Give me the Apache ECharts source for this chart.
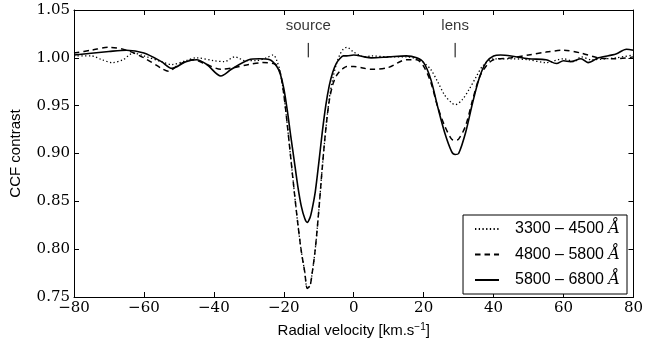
<!DOCTYPE html>
<html>
<head>
<meta charset="utf-8">
<script src="https://cdn.jsdelivr.net/npm/echarts@6/dist/echarts.min.js"></script>
<style>html,body{margin:0;padding:0;background:#fff}#c{width:646px;height:350px}</style>
</head>
<body>
<div id="c"></div>
<script>
// ---- data ----
var xTicks = [-80, -60, -40, -20, 0, 20, 40, 60, 80];
var yTicks = [0.75, 0.80, 0.85, 0.90, 0.95, 1.00, 1.05];
var seriesNames = ['3300 \u2013 4500 ', '4800 \u2013 5800 ', '5800 \u2013 6800 '];

var vDot = [-80,-75,-72,-69,-66,-63,-60,-55,-52,-48,-45,-40,-37,-34,-31,-28,-25,-23,-22,-21,-20,-19,-18,-17,-16,-15,-14,-13.3,-12.5,-12,-11,-10,-9,-8,-7,-6,-5,-4,-3,-2,0,3,5,10,15,18,20,22,24,26,28,29,31,33,35,37,40,45,50,55,60,63,65,68,72,75,80];
var cDot = [1.002,1.002,0.998,0.995,0.998,1.005,1.002,0.996,0.993,0.997,1.000,0.997,0.996,1.001,0.997,0.997,1.000,1.003,0.997,0.985,0.962,0.930,0.895,0.860,0.827,0.798,0.776,0.759,0.762,0.772,0.800,0.840,0.885,0.925,0.957,0.978,0.993,1.003,1.009,1.011,1.006,1.001,1.002,1.001,1.001,0.999,0.995,0.988,0.975,0.961,0.953,0.951,0.956,0.967,0.980,0.992,0.999,0.999,0.998,0.995,0.999,0.996,1.001,0.998,0.999,1.000,1.003];

var vDash = [-80,-75,-70,-65,-60,-55,-53,-50,-46,-42,-38,-34,-30,-26,-23,-22,-21,-20,-19,-18,-17,-16,-15,-14,-13.3,-12.5,-12,-11,-10,-9,-8,-7,-6,-5,-4,-3,-2,0,3,5,10,15,18,20,22,24,26,28,29,30,32,34,36,38,40,45,50,55,60,65,70,75,80];
var cDash = [1.005,1.008,1.011,1.008,1.000,0.989,0.986,0.993,0.998,0.993,0.988,0.990,0.993,0.995,0.994,0.992,0.984,0.962,0.930,0.895,0.860,0.827,0.798,0.776,0.759,0.762,0.772,0.800,0.840,0.885,0.925,0.955,0.972,0.981,0.986,0.989,0.991,0.991,0.989,0.988,0.990,0.998,0.998,0.991,0.975,0.949,0.929,0.915,0.914,0.915,0.929,0.956,0.980,0.992,0.998,1.000,1.003,1.006,1.008,1.005,1.000,0.999,1.001];

var vSolid = [-80,-70,-65,-60,-55,-52,-48,-45,-42,-38,-35,-30,-27,-24,-22,-21,-20,-19,-18,-17,-16,-15,-14,-13.3,-12.5,-12,-11,-10,-9,-8,-7,-6,-5,-4,-3,-2,0,3,5,10,15,18,20,22,24,26,28,29,30,32,34,36,38,40,42,45,50,55,58,60,62,65,67,70,75,78,80];
var cSolid = [1.003,1.0066,1.008,1.005,0.996,0.989,0.996,0.998,0.993,0.981,0.988,0.998,0.999,0.998,0.991,0.983,0.968,0.945,0.918,0.892,0.866,0.845,0.832,0.828,0.833,0.840,0.860,0.890,0.922,0.950,0.971,0.985,0.994,0.999,1.002,1.002,1.003,1.001,1.000,1.001,1.002,1.000,0.995,0.978,0.949,0.922,0.902,0.899,0.900,0.922,0.953,0.980,0.996,1.002,1.003,1.002,0.999,0.998,0.994,0.997,0.996,0.999,0.995,1.000,1.004,1.009,1.008];

var annNames = ['source', 'lens'];
var annX = [-13, 29];
var annLineY = [1.0005, 1.0156];
var annTextY = 1.0333;

// ---- build ----
function pairs(xs, ys){ return xs.map(function(x,i){ return [x, ys[i]]; }); }
function fmtX(v){ return (v < 0 ? '\u2212' : '') + Math.abs(v); }

var serif = 'DejaVu Serif';
var sans = 'Liberation Sans';

var lineStyles = [
  {color:'#000', width:1.3, type:[1.3, 2.4]},
  {color:'#000', width:1.5, type:[5.5, 4]},
  {color:'#000', width:1.6, type:'solid'}
];
var vs = [vDot, vDash, vSolid];
var cs = [cDot, cDash, cSolid];

var series = [];
for (var i = 0; i < 3; i++) {
  series.push({
    name: seriesNames[i], type:'line', data: pairs(vs[i], cs[i]),
    showSymbol:false, symbol:'none', smooth:0.3, lineStyle: lineStyles[i],
    itemStyle:{color:'#000'}, z: 3 + i, animation:false
  });
}
for (var j = 0; j < annNames.length; j++) {
  series.push({
    type:'line', data:[[annX[j], annLineY[0]], [annX[j], annLineY[1]]],
    symbol:'none', lineStyle:{color:'#000', width:1}, silent:true, animation:false
  });
}
series.push({
  type:'scatter', symbolSize:0, silent:true, animation:false,
  data: annNames.map(function(n, k){ return {value:[annX[k], annTextY], name:n}; }),
  label:{show:true, position:'inside', formatter:'{b}', fontFamily:sans, fontSize:15, color:'#000'}
});

var axisCommonX = {
  type:'value', min:-80, max:80, interval:20,
  axisLine:{show:true, onZero:false, lineStyle:{color:'#000', width:1}},
  axisTick:{show:true, inside:true, length:5, lineStyle:{color:'#000'}},
  splitLine:{show:false}
};
var axisCommonY = {
  type:'value', min:0.75, max:1.05, interval:0.05,
  axisLine:{show:true, onZero:false, lineStyle:{color:'#000', width:1}},
  axisTick:{show:true, inside:true, length:5, lineStyle:{color:'#000'}},
  splitLine:{show:false}
};

var option = {
  backgroundColor:'#fff',
  animation:false,
  grid:{left:66, right:9, top:10, bottom:53, containLabel:false},
  xAxis:[
    Object.assign({}, axisCommonX, {
      position:'bottom',
      axisLabel:{show:true, margin:4, fontFamily:serif, fontSize:15, color:'#000', formatter:fmtX},
      name:'Radial velocity [km.s{sup|\u22121}]', nameLocation:'middle', nameGap:25,
      nameTextStyle:{fontFamily:sans, fontSize:15, color:'#000',
        rich:{sup:{fontFamily:sans, fontSize:10, verticalAlign:'top', padding:[0,0,8,0], color:'#000'}}}
    }),
    Object.assign({}, axisCommonX, {position:'top', axisLabel:{show:false}})
  ],
  yAxis:[
    Object.assign({}, axisCommonY, {
      position:'left',
      axisLabel:{show:true, margin:4, fontFamily:serif, fontSize:15, color:'#000',
        formatter:function(v){ return v.toFixed(2); }},
      name:'CCF contrast', nameLocation:'middle', nameGap:51,
      nameTextStyle:{fontFamily:sans, fontSize:15, color:'#000'}
    }),
    Object.assign({}, axisCommonY, {position:'right', axisLabel:{show:false}})
  ],
  legend:{
    data: seriesNames, orient:'vertical', right:19, top:215,
    itemWidth:24, itemHeight:14, itemGap:9.5,
    padding:[6, 7, 6, 11],
    borderColor:'#000', borderWidth:1, borderRadius:0, backgroundColor:'#fff',
    itemStyle:{opacity:0},
    formatter: function(n){ return n + '{a|\u00C5}'; },
    textStyle:{fontFamily:sans, fontSize:16, color:'#000', padding:[0,0,0,11],
      rich:{a:{fontFamily:serif, fontStyle:'italic', fontSize:16, color:'#000'}}}
  },
  series: series
};

var chart = echarts.init(document.getElementById('c'), null, {renderer:'canvas'});
chart.setOption(option);
</script>
</body>
</html>
